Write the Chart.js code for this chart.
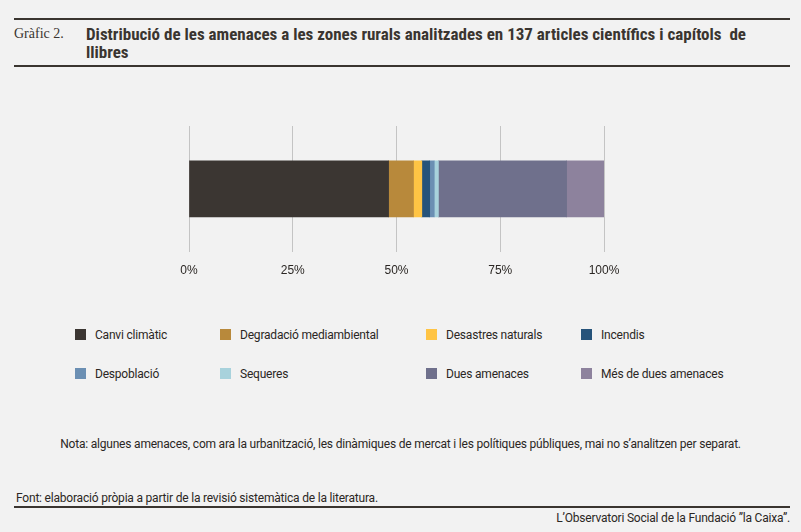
<!DOCTYPE html>
<html>
<head>
<meta charset="utf-8">
<script src="https://cdn.jsdelivr.net/npm/chart.js@4"></script>
<style>
  html, body { margin: 0; padding: 0; background: #f2f2f2; }
  body { width: 801px; height: 532px; position: relative; overflow: hidden; font-family: Roboto, "Noto Sans", sans-serif; color: #2b2724; }
  .rule { position: absolute; left: 14px; width: 776px; height: 2px; background: #3a3530; }
  #num { position: absolute; left: 14px; top: 26px; font-family: "Liberation Serif", serif; font-size: 14px; color: #3a3530; }
  #title { position: absolute; left: 86px; top: 25px; width: 680px; font-family: "Liberation Sans Narrow", "Roboto Condensed", Roboto, sans-serif; font-weight: bold; font-size: 17px; line-height: 18px; color: #3a3530; }
  #chartBox { position: absolute; left: 160px; top: 116px; width: 480px; height: 180px; }
  #legend { position: absolute; left: 0; top: 0; width: 801px; }
  .item { position: absolute; font-size: 12px; letter-spacing: -0.2px; line-height: 14px; white-space: nowrap; }
  .item span.sw { position: absolute; left: -20px; top: 1px; width: 11px; height: 11px; }
  .note { position: absolute; font-size: 12px; letter-spacing: -0.2px; white-space: nowrap; }
</style>
</head>
<body>
<div class="rule" style="top:18px"></div>
<div id="num">Gràfic 2.</div>
<div id="title">Distribució de les amenaces a les zones rurals analitzades en 137 articles científics i capítols&nbsp; de llibres</div>
<div class="rule" style="top:65px"></div>

<div id="chartBox"><canvas id="threatChart"></canvas></div>
<div id="legend"></div>

<div class="note" style="left:0; width:801px; text-align:center; top:437px;">Nota: algunes amenaces, com ara la urbanització, les dinàmiques de mercat i les polítiques públiques, mai no s’analitzen per separat.</div>
<div class="note" style="left:16px; top:491px;">Font: elaboració pròpia a partir de la revisió sistemàtica de la literatura.</div>
<div class="rule" style="top:506px"></div>
<div class="note" style="right:11px; top:511px;">L’Observatori Social de la Fundació ”la Caixa”.</div>

<script>
const categories = ['Amenaces'];
const threatLabels = ['Canvi climàtic', 'Degradació mediambiental', 'Desastres naturals', 'Incendis',
                      'Despoblació', 'Sequeres', 'Dues amenaces', 'Més de dues amenaces'];
const threatShares = [48.1, 6.0, 2.0, 1.9, 1.1, 1.0, 30.9, 9.0];
const threatColors = ['#3b3632', '#b8893b', '#ffc444', '#26537a', '#6b8fb3', '#a8d2dc', '#6f708c', '#8d829d'];
const tickValues = [0, 25, 50, 75, 100];

const datasets = threatLabels.map((label, i) => ({
    label: label,
    data: [threatShares[i]],
    backgroundColor: threatColors[i],
    borderWidth: 0,
    barThickness: 56
}));

new Chart(document.getElementById('threatChart').getContext('2d'), {
    type: 'bar',
    data: { labels: categories, datasets: datasets },
    options: {
        indexAxis: 'y',
        responsive: true,
        maintainAspectRatio: false,
        animation: false,
        layout: { padding: { left: 29, right: 36, top: 10, bottom: 6 } },
        plugins: { legend: { display: false }, tooltip: { enabled: false } },
        scales: {
            x: {
                stacked: true,
                min: 0,
                max: 100,
                afterBuildTicks: axis => { axis.ticks = tickValues.map(v => ({ value: v })); },
                ticks: {
                    callback: v => v + '%',
                    color: '#2b2724',
                    padding: 12,
                    font: { family: 'Liberation Sans, Arial, sans-serif', size: 12 }
                },
                grid: { color: '#c4c4c4', drawTicks: false },
                border: { display: false }
            },
            y: { stacked: true, display: false }
        }
    }
});

// legend built from the same arrays
const legendCols = [95, 240, 446, 601];
const legendRows = [328, 367];
const legend = document.getElementById('legend');
threatLabels.forEach((label, i) => {
    const el = document.createElement('div');
    el.className = 'item';
    el.style.left = legendCols[i % 4] + 'px';
    el.style.top = legendRows[Math.floor(i / 4)] + 'px';
    el.innerHTML = '<span class="sw" style="background:' + threatColors[i] + '"></span>' + label;
    legend.appendChild(el);
});
</script>
</body>
</html>
